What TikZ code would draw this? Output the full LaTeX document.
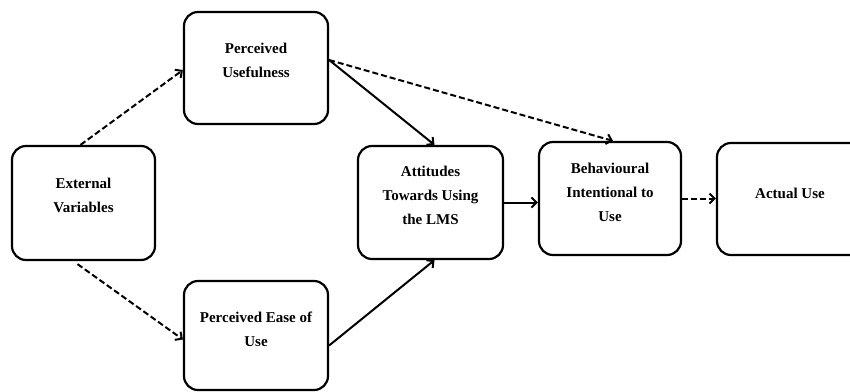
\documentclass[tikz,border=0pt]{standalone}
\usepackage{fontspec}
\setmainfont{Liberation Serif}
\usetikzlibrary{arrows.meta}

\tikzset{
  box/.style = {draw, line width=2.2pt, rounded corners=14pt, inner sep=0pt},
  txt/.style = {align=center, font=\bfseries\fontsize{15}{24}\selectfont},
  solidarr/.style = {line width=2pt, -{Straight Barb[length=5pt,width=10pt]}},
  dasharr/.style = {solidarr, dash pattern=on 6pt off 3pt}
}

\begin{document}
\begin{tikzpicture}[x=1pt, y=-1pt] % pixel units, y goes down
\useasboundingbox (0,0) rectangle (850,391);

% boxes
\node[box, minimum width=143pt, minimum height=114pt] (ev)  at (83.5,203)  {};
\node[box, minimum width=144pt, minimum height=112pt] (pu)  at (256,68)    {};
\node[box, minimum width=144pt, minimum height=109pt] (peu) at (256,335.5) {};
\node[box, minimum width=145pt, minimum height=113pt] (atu) at (430.5,202.5) {};
\node[box, minimum width=142pt, minimum height=113pt] (bi)  at (610,198.5) {};
\node[box, minimum width=146pt, minimum height=112pt] (au)  at (790,199)   {};

% texts, a bit above the middle
\node[txt] (ev-t)  at ([yshift=8pt]ev)  {External\\Variables};
\node[txt] (pu-t)  at ([yshift=8pt]pu)  {Perceived\\Usefulness};
\node[txt] (peu-t) at ([yshift=6pt]peu) {Perceived Ease of\\Use};
\node[txt] (atu-t) at ([yshift=7pt]atu) {Attitudes\\Towards Using\\the LMS};
\node[txt] (bi-t)  at ([yshift=6pt]bi)  {Behavioural\\Intentional to\\Use};
\node[txt] (au-t)  at ([yshift=6pt]au)  {Actual Use};

% arrows
\draw[dasharr] ([xshift=-3pt]ev.north) -- ([yshift=-2pt]pu.west);
\draw[dasharr] ([xshift=-6pt,yshift=-3pt]ev.south) -- ([yshift=-4pt]peu.west);
\draw[solidarr] ([yshift=8pt]pu.east) -- ([xshift=4pt]atu.north);
\draw[dasharr] ([yshift=8pt]pu.east) -- ([xshift=3pt]bi.north);
\draw[solidarr] ([yshift=-10pt]peu.east) -- ([xshift=4pt]atu.south);
\draw[solidarr] (atu.east) -- (atu.east -| bi.west);
\draw[dasharr] (bi.east) -- (bi.east -| au.west);
\end{tikzpicture}
\end{document}
